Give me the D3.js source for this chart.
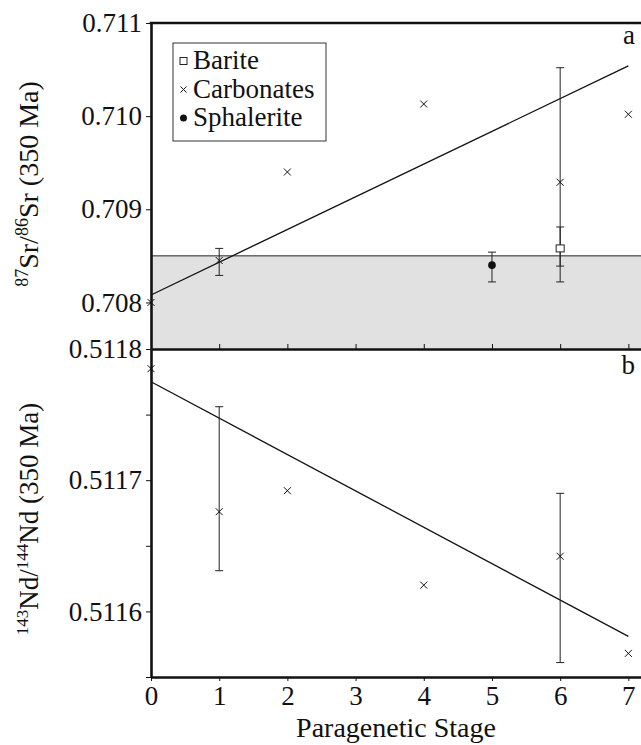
<!DOCTYPE html>
<html>
<head>
<meta charset="utf-8">
<script src="https://cdn.jsdelivr.net/npm/d3@7"></script>
<style>
  body { margin: 0; background: #fff; }
</style>
</head>
<body>
<div id="chart"></div>
<script>
let width = 641;
let height = 745;
const SERIF = "Liberation Serif, Times New Roman, serif";

// Data: paragenetic stage vs isotope ratios
const carbStage = [0, 1, 2, 4, 6, 7];
const srCarb = [0.70800, 0.70845, 0.70940, 0.71013, 0.70929, 0.71002];
const srCarbErrStage = [1, 6];
const srCarbErr = [[0.70829, 0.70858], [0.70822, 0.71052]];

const bariteStage = [6];
const srBarite = [0.70858];
const srBariteErr = [[0.70839, 0.70881]];

const sphalStage = [5];
const srSphal = [0.70840];
const srSphalErr = [[0.70822, 0.70854]];

const srBand = [0.7075, 0.7085];
const fitStage = [0, 7];
const srFit = [0.70808, 0.71054];

const ndCarb = [0.511785, 0.511676, 0.511692, 0.511620, 0.511642, 0.511568];
const ndErrStage = [1, 6];
const ndErr = [[0.511631, 0.511756], [0.511561, 0.511690]];
const ndFit = [0.511775, 0.511581];

const stageTicks = [0, 1, 2, 3, 4, 5, 6, 7];
const srTicks = [0.708, 0.709, 0.710, 0.711];
const ndTicks = [0.51155, 0.5116, 0.51165, 0.5117, 0.51175, 0.5118];
const ndLabels = [0.5116, 0.5117, 0.5118];
const legendItems = ["Barite", "Carbonates", "Sphalerite"];

let svg = d3.select("#chart").append("svg")
  .attr("width", width)
  .attr("height", height)
  .style("font-family", SERIF);

// scales
var x = d3.scaleLinear().domain([0, 7.2]).range([151, 642]);
var yTop = d3.scaleLinear().domain([0.7075, 0.711]).range([349, 23]);
var yBot = d3.scaleLinear().domain([0.51155, 0.5118]).range([677, 349]);

function addText(g, tx, ty, size, str) {
  return g.append("text").attr("x", tx).attr("y", ty)
    .style("font-family", SERIF).style("font-size", size + "px")
    .attr("fill", "#111").text(str);
}

function cross(g, cx, cy, s) {
  g.append("path")
    .attr("d", `M${cx - s},${cy - s}L${cx + s},${cy + s}M${cx - s},${cy + s}L${cx + s},${cy - s}`)
    .attr("stroke", "#111").attr("stroke-width", 1).attr("fill", "none");
}

function errBar(g, cx, lo, hi, y) {
  g.append("line")
    .attr("x1", cx).attr("x2", cx).attr("y1", y(lo)).attr("y2", y(hi))
    .attr("stroke", "#222").attr("stroke-width", 1);
  [lo, hi].forEach(v => {
    g.append("line")
      .attr("x1", cx - 4).attr("x2", cx + 4).attr("y1", y(v)).attr("y2", y(v))
      .attr("stroke", "#222").attr("stroke-width", 1);
  });
}

// ---- top panel (Sr) ----
let gTop = svg.append("g");

gTop.append("rect")
  .attr("x", x(0)).attr("width", x(7.2) - x(0))
  .attr("y", yTop(srBand[1])).attr("height", yTop(srBand[0]) - yTop(srBand[1]))
  .attr("fill", "#e1e1e1");
gTop.append("line")
  .attr("x1", x(0)).attr("x2", x(7.2))
  .attr("y1", yTop(srBand[1])).attr("y2", yTop(srBand[1]))
  .attr("stroke", "#222").attr("stroke-width", 1);

gTop.append("path")
  .datum(fitStage.map((s, i) => [s, srFit[i]]))
  .attr("d", d3.line().x(d => x(d[0])).y(d => yTop(d[1])))
  .attr("stroke", "#111").attr("stroke-width", 1.3).attr("fill", "none");

srCarbErrStage.forEach((s, i) => errBar(gTop, x(s), srCarbErr[i][0], srCarbErr[i][1], yTop));
bariteStage.forEach((s, i) => errBar(gTop, x(s), srBariteErr[i][0], srBariteErr[i][1], yTop));
sphalStage.forEach((s, i) => errBar(gTop, x(s), srSphalErr[i][0], srSphalErr[i][1], yTop));

carbStage.forEach((s, i) => cross(gTop, x(s), yTop(srCarb[i]), 3.5));

gTop.selectAll(".barite")
  .data(bariteStage)
  .enter().append("rect")
  .attr("x", d => x(d) - 4).attr("y", (d, i) => yTop(srBarite[i]) - 3.5)
  .attr("width", 8).attr("height", 7)
  .attr("fill", "#fff").attr("stroke", "#222").attr("stroke-width", 1);

gTop.selectAll(".sphal")
  .data(sphalStage)
  .enter().append("circle")
  .attr("cx", d => x(d)).attr("cy", (d, i) => yTop(srSphal[i]))
  .attr("r", 3.8).attr("fill", "#111");

// legend
let leg = gTop.append("g");
leg.append("rect")
  .attr("x", 173).attr("y", 43).attr("width", 153).attr("height", 98)
  .attr("fill", "#fff").attr("stroke", "#333").attr("stroke-width", 1);
legendItems.forEach((name, i) => {
  let by = 69 + i * 28.5;
  addText(leg, 193, by, 27, name);
  let my = by - 8;
  if (i === 0) {
    leg.append("rect").attr("x", 180).attr("y", my - 3.5).attr("width", 7).attr("height", 7)
      .attr("fill", "#fff").attr("stroke", "#222");
  } else if (i === 1) {
    cross(leg, 183.5, my, 3);
  } else {
    leg.append("circle").attr("cx", 183.5).attr("cy", my).attr("r", 3.5).attr("fill", "#111");
  }
});

// ---- bottom panel (Nd) ----
let gBot = svg.append("g");

gBot.append("path")
  .datum(fitStage.map((s, i) => [s, ndFit[i]]))
  .attr("d", d3.line().x(d => x(d[0])).y(d => yBot(d[1])))
  .attr("stroke", "#111").attr("stroke-width", 1.3).attr("fill", "none");

ndErrStage.forEach((s, i) => errBar(gBot, x(s), ndErr[i][0], ndErr[i][1], yBot));
carbStage.forEach((s, i) => cross(gBot, x(s), yBot(ndCarb[i]), 3.5));

// ---- axes ----
function styleAxis(g) {
  g.attr("font-family", null).attr("font-size", null);
  g.selectAll(".domain").attr("stroke", "#111").attr("stroke-width", 2.6);
  g.selectAll(".tick line").attr("stroke", "#111").attr("stroke-width", 1);
  g.selectAll("text").style("font-family", SERIF).style("font-size", "27px").attr("fill", "#111");
}

svg.append("g")
  .attr("transform", `translate(${x(0)},0)`)
  .call(d3.axisLeft(yTop).tickValues(srTicks).tickFormat(d3.format(".3f")).tickSize(5).tickPadding(4).tickSizeOuter(0))
  .call(styleAxis);

svg.append("g")
  .attr("transform", `translate(${x(0)},0)`)
  .call(d3.axisLeft(yBot).tickValues(ndTicks)
    .tickFormat(d => ndLabels.some(v => Math.abs(v - d) < 1e-9) ? d3.format(".4f")(d) : "")
    .tickSize(5).tickPadding(4).tickSizeOuter(0))
  .call(styleAxis);

// top border
svg.append("line")
  .attr("x1", x(0) - 1.3).attr("x2", width).attr("y1", yTop(0.711)).attr("y2", yTop(0.711))
  .attr("stroke", "#111").attr("stroke-width", 2.6);

// divider between panels, ticks pointing up into panel a
svg.append("g")
  .attr("transform", `translate(0,${yTop(0.7075)})`)
  .call(d3.axisTop(x).tickValues(stageTicks).tickFormat("").tickSize(5).tickSizeOuter(0))
  .call(styleAxis);

svg.append("g")
  .attr("transform", `translate(0,${yBot(0.51155)})`)
  .call(d3.axisBottom(x).tickValues(stageTicks).tickSize(4).tickPadding(5).tickSizeOuter(0))
  .call(styleAxis);

// panel letters
addText(svg, 635, 44, 27, "a").attr("text-anchor", "end");
addText(svg, 635, 374, 27, "b").attr("text-anchor", "end");

// axis titles
addText(svg, 396, 737, 28, "Paragenetic Stage").attr("text-anchor", "middle");

function isoLabel(cx, cy, size, a, b, el) {
  let sup = Math.round(size * 0.64);
  let t = svg.append("text")
    .attr("transform", `translate(${cx},${cy}) rotate(-90)`)
    .attr("text-anchor", "middle")
    .style("font-family", SERIF).style("font-size", size + "px").attr("fill", "#111");
  t.append("tspan").style("font-size", sup + "px").attr("dy", -10).text(a);
  t.append("tspan").attr("dy", 10).text(el + "/");
  t.append("tspan").style("font-size", sup + "px").attr("dy", -10).text(b);
  t.append("tspan").attr("dy", 10).text(el + " (350 Ma)");
}
isoLabel(38, 184, 28, "87", "86", "Sr");
isoLabel(38, 519, 27, "143", "144", "Nd");
</script>
</body>
</html>
